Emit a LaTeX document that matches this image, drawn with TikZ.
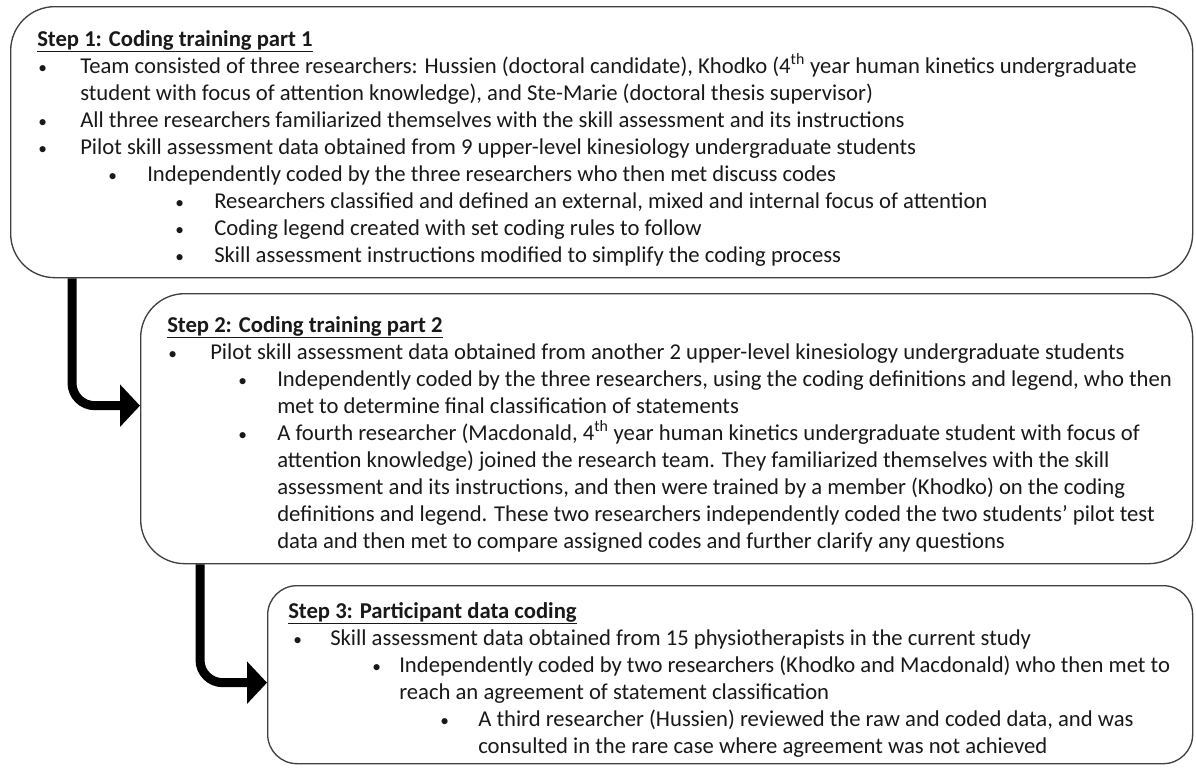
\documentclass[tikz,border=0pt]{standalone}
\usepackage{fontspec}
\setmainfont{Carlito}
\usetikzlibrary{arrows.meta,calc}
\newcommand{\ulttl}[1]{\underline{#1}}
\tikzset{
  box/.style={draw=black!75, line width=1pt, fill=white, anchor=north west, inner sep=0pt},
  txt/.style={anchor=base west, inner sep=0pt, font=\fontsize{17}{20}\selectfont, text=black!90},
  ttl/.style={txt, font=\fontsize{17}{20}\selectfont\bfseries},
  bul/.style={anchor=base west, inner sep=0pt, font=\fontsize{13}{20}\selectfont, text=black!90},
  flow/.style={line width=6.75pt, rounded corners=17pt, -{Triangle[length=15pt,width=31pt]}}
}
\begin{document}
\begin{tikzpicture}[x=0.75pt,y=-0.75pt]
\useasboundingbox (0,0) rectangle (1196,768);
% boxes
\node[box, rounded corners=33pt, minimum width=886.5pt, minimum height=203.25pt] (b1) at (10,6) {};
\node[box, rounded corners=33pt, minimum width=789pt, minimum height=202.5pt] (b2) at (140,293) {};
\node[box, rounded corners=22pt, minimum width=693.75pt, minimum height=133.5pt] (b3) at (267,585) {};
% arrows
\draw[flow] ($(b1.south west)+(62,0)$) |- ($(b2.west)+(0,-23)$);
\draw[flow] ($(b2.south west)+(60,0)$) |- ($(b3.west)+(0,8)$);
% box 1
\node[ttl] (s1) at (37,46) {\ulttl{Step 1: Coding training part 1}};
\node[bul] (p1a) at (38,73) {•};
\node[txt] (t1a) at (80,73) {Team consisted of three researchers: Hussien (doctoral candidate), Khodko (4\textsuperscript{th} year human kinetics undergraduate};
\node[txt] (t1b) at (80,100) {student with focus of attention knowledge), and Ste-Marie (doctoral thesis supervisor)};
\node[bul] (p1c) at (38,127) {•};
\node[txt] (t1c) at (80,127) {All three researchers familiarized themselves with the skill assessment and its instructions};
\node[bul] (p1d) at (38,154) {•};
\node[txt] (t1d) at (80,154) {Pilot skill assessment data obtained from 9 upper-level kinesiology undergraduate students};
\node[bul] (p1e) at (108,181) {•};
\node[txt] (t1e) at (147,181) {Independently coded by the three researchers who then met discuss codes};
\node[bul] (p1f) at (175,208) {•};
\node[txt] (t1f) at (214,208) {Researchers classified and defined an external, mixed and internal focus of attention};
\node[bul] (p1g) at (175,235) {•};
\node[txt] (t1g) at (214,235) {Coding legend created with set coding rules to follow};
\node[bul] (p1h) at (175,262) {•};
\node[txt] (t1h) at (214,262) {Skill assessment instructions modified to simplify the coding process};
% box 2
\node[ttl] (s2) at (167,332) {\ulttl{Step 2: Coding training part 2}};
\node[bul] (p2a) at (168,359) {•};
\node[txt] (t2a) at (210,359) {Pilot skill assessment data obtained from another 2 upper-level kinesiology undergraduate students};
\node[bul] (p2b) at (238,386) {•};
\node[txt] (t2b) at (277,386) {Independently coded by the three researchers, using the coding definitions and legend, who then};
\node[txt] (t2c) at (277,413) {met to determine final classification of statements};
\node[bul] (p2d) at (238,440) {•};
\node[txt] (t2d) at (277,440) {A fourth researcher (Macdonald, 4\textsuperscript{th} year human kinetics undergraduate student with focus of};
\node[txt] (t2e) at (277,467) {attention knowledge) joined the research team. They familiarized themselves with the skill};
\node[txt] (t2f) at (277,494) {assessment and its instructions, and then were trained by a member (Khodko) on the coding};
\node[txt] (t2g) at (277,521) {definitions and legend. These two researchers independently coded the two students’ pilot test};
\node[txt] (t2h) at (277,548) {data and then met to compare assigned codes and further clarify any questions};
% box 3
\node[ttl] (s3) at (288,618) {\ulttl{Step 3: Participant data coding}};
\node[bul] (p3a) at (293,645) {•};
\node[txt] (t3a) at (330,645) {Skill assessment data obtained from 15 physiotherapists in the current study};
\node[bul] (p3b) at (372,672) {•};
\node[txt] (t3b) at (399,672) {Independently coded by two researchers (Khodko and Macdonald) who then met to};
\node[txt] (t3c) at (399,699) {reach an agreement of statement classification};
\node[bul] (p3d) at (440,726) {•};
\node[txt] (t3d) at (478,726) {A third researcher (Hussien) reviewed the raw and coded data, and was};
\node[txt] (t3e) at (478,753) {consulted in the rare case where agreement was not achieved};
\end{tikzpicture}
\end{document}
